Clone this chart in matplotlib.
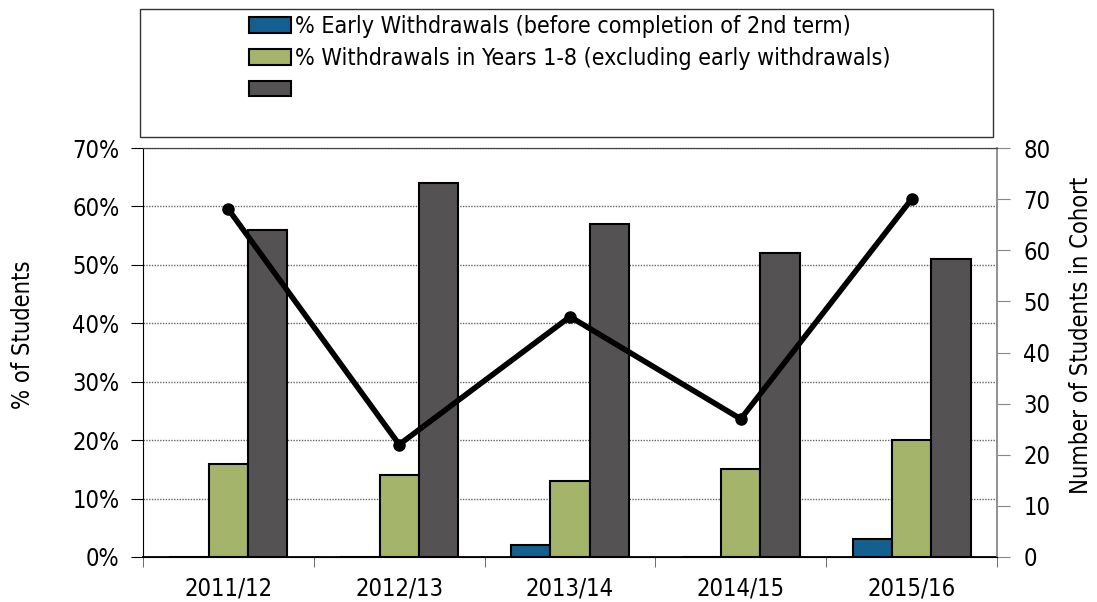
import matplotlib
matplotlib.use("Agg")
import matplotlib.pyplot as plt
from matplotlib.patches import Rectangle
import numpy as np

plt.rcParams['font.family'] = ['DejaVu Sans']
plt.rcParams['font.stretch'] = 'condensed'

categories = ["2011/12", "2012/13", "2013/14", "2014/15", "2015/16"]
early_withdrawals = [0, 0, 2, 0, 3]
withdrawals_1_8 = [16, 14, 13, 15, 20]
dark_series = [56, 64, 57, 52, 51]
cohort_size = [68, 22, 47, 27, 70]

legend_labels = ["% Early Withdrawals (before completion of 2nd term)",
                 "% Withdrawals in Years 1-8 (excluding early withdrawals)",
                 ""]

fig = plt.figure(figsize=(10.97, 6.02), dpi=100)
ax = fig.add_axes([143/1097, 45/602, (997-143)/1097, (557-148)/602])
ax2 = ax.twinx()

x = np.arange(len(categories))
w = 0.23
b1 = ax.bar(x - w, early_withdrawals, w, color="#135f8f", edgecolor="black", linewidth=1.5, zorder=3)
b2 = ax.bar(x, withdrawals_1_8, w, color="#a5b46b", edgecolor="black", linewidth=1.5, zorder=3)
b3 = ax.bar(x + w, dark_series, w, color="#545253", edgecolor="black", linewidth=1.5, zorder=3)

ax2.plot(x, cohort_size, color="black", linewidth=4, marker="o", markersize=8, zorder=5)

ax.set_xlim(-0.5, len(categories) - 0.5)
ax.set_ylim(0, 70)
ax2.set_ylim(0, 80)
ax.set_yticks(np.arange(0, 71, 10))
ax.set_yticklabels([f"{v}%" for v in range(0, 71, 10)])
ax2.set_yticks(np.arange(0, 81, 10))

ax.yaxis.grid(True, linestyle=(0, (1, 1)), color="#666666", linewidth=1, zorder=0)
ax.set_axisbelow(True)

ax.set_xticks(x)
ax.set_xticklabels(categories)
ax.set_xticks(np.arange(-0.5, len(categories) + 0.5, 1), minor=True)
ax.tick_params(axis="x", which="major", length=0, labelsize=17, pad=14)
ax.tick_params(axis="x", which="minor", length=7, color="#555555", direction="out")
ax.tick_params(axis="y", length=9, labelsize=17, direction="out", pad=8)
ax2.tick_params(axis="y", length=9, labelsize=17, direction="out", color="#888888", pad=10)

for a in (ax, ax2):
    a.spines["top"].set_color("#444444")
    a.spines["top"].set_linewidth(0.8)
ax.spines["left"].set_color("black")
ax.spines["bottom"].set_color("black")
ax.spines["bottom"].set_linewidth(1.3)
ax2.spines["right"].set_color("#888888")
ax2.spines["right"].set_linewidth(1.3)
ax2.spines["left"].set_visible(False)
ax.spines["right"].set_visible(False)

ax.set_ylabel("% of Students", fontsize=17, labelpad=27)
ax2.set_ylabel("Number of Students in Cohort", fontsize=17, labelpad=13)
ax.yaxis.label.set_y(0.543)
ax2.yaxis.label.set_y(0.543)

fig.patches.append(Rectangle((140/1097, 1 - 137/602), (993-140)/1097, 128/602,
                             transform=fig.transFigure, fill=False, edgecolor="#333333",
                             linewidth=1, zorder=0))
leg = fig.legend([b1, b2, b3], legend_labels, loc="upper left",
                 bbox_to_anchor=(240/1097, 1 - 6/602), frameon=False, fontsize=16.7,
                 handlelength=1.78, handleheight=0.64, handletextpad=0.2,
                 labelspacing=0.38, borderaxespad=0)

fig.savefig("out.png", dpi=100)
